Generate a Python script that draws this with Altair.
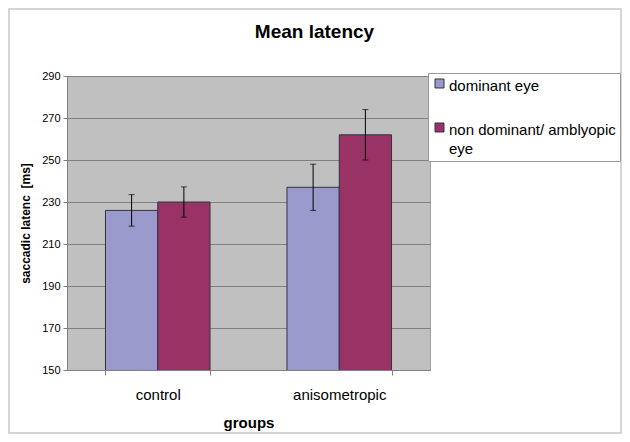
import altair as alt
import pandas as pd

groups = ["control", "control", "anisometropic", "anisometropic"]
eyes = ["dominant eye", "non dominant/ amblyopic eye", "dominant eye", "non dominant/ amblyopic eye"]
means = [226, 230, 237, 262]
errors = [7.5, 7.2, 11, 12]

group_order = ["control", "anisometropic"]
eye_order = ["dominant eye", "non dominant/ amblyopic eye"]
colors = ["#9999CC", "#993366"]
y_ticks = [150, 170, 190, 210, 230, 250, 270, 290]

df = pd.DataFrame({"group": groups, "eye": eyes, "mean": means, "err": errors})
df["lo"] = df["mean"] - df["err"]
df["hi"] = df["mean"] + df["err"]

x = alt.X(
    "group:N", sort=group_order,
    scale=alt.Scale(paddingInner=0.424, paddingOuter=0.212),
    axis=alt.Axis(title="groups", labelAngle=0, tickBand="extent", tickSize=5,
                  labelFont="Liberation Sans", labelFontSize=15, labelPadding=12,
                  titleFont="Liberation Sans", titleFontSize=15, titleFontWeight="bold",
                  titlePadding=13, grid=False),
)
xo = alt.XOffset("eye:N", sort=eye_order, scale=alt.Scale(paddingInner=0, paddingOuter=0))
y_scale = alt.Scale(domain=[150, 290], nice=False, zero=False)

bars = alt.Chart(df).mark_bar(stroke="#333344", strokeWidth=1, clip=True).encode(
    x=x,
    xOffset=xo,
    y=alt.Y("mean:Q", scale=y_scale,
            axis=alt.Axis(values=y_ticks, title="saccadic latenc\u00a0 [ms]", tickSize=4,
                          labelFont="Liberation Sans", labelFontSize=11, labelPadding=3,
                          titleFont="Liberation Sans", titleFontSize=12, titleFontWeight="bold",
                          titlePadding=9)),
    color=alt.Color(
        "eye:N", sort=eye_order,
        scale=alt.Scale(domain=eye_order, range=colors),
        legend=alt.Legend(
            title="\u00a0", titleFontSize=6, titlePadding=0,
            orient="none", legendX=361, legendY=-3,
            symbolType="M-1,-2.556H1V-0.556H-1Z", symbolSize=81, symbolStrokeColor="#333344",
            symbolStrokeWidth=1, labelFont="Liberation Sans", labelFontSize=15,
            labelColor="black", padding=4, strokeColor="#999999", fillColor="white",
            rowPadding=26, labelOffset=2, labelBaseline="alphabetic", labelLimit=300,
            labelExpr="datum.label == 'non dominant/ amblyopic eye' ? ['non dominant/ amblyopic', 'eye'] : datum.label",
        ),
    ),
)

rules = alt.Chart(df).mark_rule(color="black", strokeWidth=1).encode(
    x=x, xOffset=xo, y=alt.Y("lo:Q", scale=y_scale), y2="hi:Q"
)
caps_hi = alt.Chart(df).mark_tick(color="black", size=6, thickness=1, orient="horizontal").encode(
    x=x, xOffset=xo, y=alt.Y("hi:Q", scale=y_scale)
)
caps_lo = alt.Chart(df).mark_tick(color="black", size=6, thickness=1, orient="horizontal").encode(
    x=x, xOffset=xo, y=alt.Y("lo:Q", scale=y_scale)
)

frame = alt.Chart(pd.DataFrame({"a": [0]})).mark_rect(fill=None, stroke="#c8c8c8", strokeWidth=1.5).encode(
    x=alt.value(-58), x2=alt.value(554), y=alt.value(-67), y2=alt.value(357)
)

chart = alt.layer(bars, rules, caps_hi, caps_lo, frame).properties(
    width=363, height=294,
    background="white",
    padding={"left": 59, "top": 68, "right": 192, "bottom": 64},
    autosize=alt.AutoSizeParams(type="none"),
    title=alt.Title("Mean latency", font="Liberation Sans", fontSize=19, fontWeight="bold",
                    anchor="middle", frame="group", dx=66, offset=0, dy=49,
                    baseline="alphabetic", color="black"),
).configure(
    view=alt.ViewConfig(fill="#C0C0C0", stroke="#a0a0a0", strokeWidth=1),
    axis=alt.AxisConfig(domainColor="#808080", tickColor="#808080", gridColor="#808080",
                        labelColor="black", titleColor="black"),
    style={"guide-label": {"lineHeight": 19}},
)

chart.save("out.html", embed_options={"renderer": "svg", "actions": False})
